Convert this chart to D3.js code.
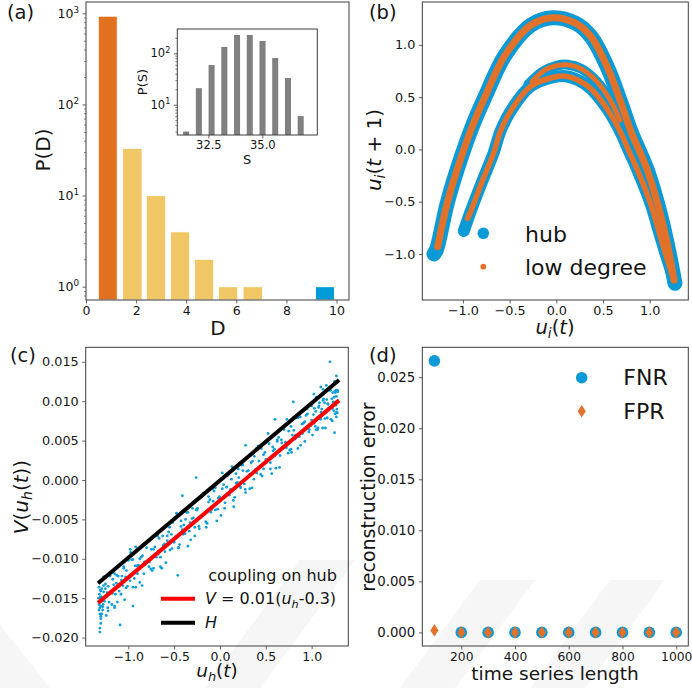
<!DOCTYPE html>
<html>
<head>
<meta charset="utf-8">
<script src="https://cdn.jsdelivr.net/npm/d3@7"></script>
<style>
  html, body { margin: 0; padding: 0; background: #fff; }
  svg { display: block; }
  text { font-family: "DejaVu Sans", sans-serif; white-space: pre; }
</style>
</head>
<body>
<svg id="fig" width="692" height="688"></svg>
<script>
// ---------- data ----------

// (a) degree histogram
const degBinLo = [0.49, 1.46, 2.41, 3.37, 4.33, 5.29, 6.27, 9.16];
const degBinHi = [1.25, 2.24, 3.18, 4.14, 5.10, 6.06, 7.05, 9.92];
const degCount = [930, 33, 10, 4, 2, 1, 1, 1];
const degGroup = ["low", "mid", "mid", "mid", "mid", "mid", "mid", "hub"];

// (a) inset: strength histogram
const sCenter = [31.47, 32.06, 32.65, 33.24, 33.83, 34.42, 35.01, 35.60, 36.19, 36.78];
const sCount = [3, 21, 59, 133, 227, 227, 174, 81, 33, 6];

// (b) return maps, traced along the point clouds
const hubOuter = [[-1.31,-1.00],[-1.28,-0.95],[-1.17,-0.52],[-1.05,-0.16],[-0.90,0.22],[-0.76,0.51],[-0.55,0.90],[-0.27,1.19],[-0.04,1.26],[0.20,1.21],[0.37,1.08],[0.55,0.78],[0.69,0.45],[0.80,0.17],[0.975,-0.20],[1.12,-0.64],[1.21,-1.00],[1.27,-1.28]];
const hubInner = [[-0.99,-0.78],[-0.92,-0.60],[-0.80,-0.32],[-0.67,-0.03],[-0.60,0.17],[-0.48,0.38],[-0.28,0.60],[-0.03,0.69],[0.10,0.70],[0.24,0.66],[0.37,0.58],[0.55,0.38],[0.69,0.16],[0.78,-0.02],[0.87,-0.20],[1.01,-0.52],[1.08,-0.73],[1.17,-1.00],[1.25,-1.22]];
const hubInnerTop = [[-0.30,0.62],[-0.15,0.74],[0.00,0.80],[0.12,0.81],[0.27,0.77],[0.40,0.68],[0.52,0.55],[0.62,0.40],[0.70,0.25]];
const lowOuter = [[-1.27,-0.93],[-1.17,-0.52],[-1.05,-0.16],[-0.90,0.22],[-0.76,0.51],[-0.55,0.90],[-0.27,1.19],[-0.04,1.26],[0.20,1.21],[0.37,1.08],[0.55,0.78],[0.69,0.45],[0.80,0.17],[0.975,-0.20],[1.12,-0.64],[1.21,-1.00],[1.26,-1.25]];
const lowInner = [[-0.95,-0.66],[-0.92,-0.60],[-0.80,-0.32],[-0.67,-0.03],[-0.60,0.17],[-0.48,0.38],[-0.28,0.60],[-0.03,0.69],[0.10,0.70],[0.24,0.66],[0.37,0.58],[0.55,0.38],[0.69,0.16],[0.78,-0.02],[0.87,-0.20],[1.01,-0.52],[1.08,-0.73],[1.17,-1.00],[1.24,-1.20]];
const lowInnerTop = [[-0.26,0.65],[-0.12,0.76],[0.00,0.80],[0.12,0.81],[0.27,0.77],[0.40,0.68],[0.52,0.55],[0.62,0.40],[0.68,0.28]];

// (c) coupling on the hub: sampled points (u_h, V)
const couplingPts = [
  [-1.32,-0.0136],[-1.31,-0.0162],[-1.31,-0.0149],[-1.30,-0.0173],[-1.30,-0.0141],[-1.29,-0.0154],[-1.28,-0.0126],[-1.28,-0.0165],[-1.27,-0.0142],[-1.26,-0.0154],[-1.25,-0.0132],[-1.24,-0.0172],[-1.23,-0.0143],[-1.22,-0.0135],[-1.21,-0.0155],[-1.20,-0.0122],[-1.19,-0.0142],[-1.18,-0.0158],[-1.17,-0.0126],[-1.16,-0.0133],[-1.15,-0.0119],[-1.14,-0.0145],[-1.13,-0.0131],[-1.12,-0.0155],[-1.11,-0.0122],[-1.10,-0.0135],[-1.09,-0.0107],[-1.08,-0.0145],[-1.07,-0.0122],[-1.06,-0.0134],[-1.05,-0.0112],[-1.04,-0.0152],[-1.03,-0.0123],[-1.02,-0.0115],[-1.01,-0.0135],[-1.00,-0.0102],
  [-1.31,-0.0193],[-1.31,-0.0188],[-1.30,-0.0182],[-1.30,-0.0176],[-1.29,-0.0170],[-1.32,-0.0165],[-1.28,-0.0161],[-1.09,-0.0184],[-1.15,-0.0162],[-1.22,-0.0166],[-1.27,-0.0123],[-1.31,-0.0128],[-0.95,-0.0160],[-0.92,-0.0085],[-0.98,-0.0088],[-0.46,-0.0121],[-0.26,0.0003],[-0.41,-0.0020],[0.28,0.0044],
  [-0.98,-0.0128],[-0.95,-0.0101],[-0.92,-0.0136],[-0.89,-0.0108],[-0.86,-0.0098],[-0.83,-0.0119],[-0.80,-0.0080],[-0.77,-0.0104],[-0.74,-0.0115],[-0.71,-0.0085],[-0.68,-0.0071],[-0.65,-0.0098],[-0.62,-0.0083],[-0.59,-0.0105],[-0.56,-0.0066],[-0.53,-0.0069],[-0.50,-0.0079],[-0.47,-0.0043],[-0.44,-0.0082],[-0.41,-0.0063],[-0.38,-0.0068],[-0.35,-0.0041],[-0.32,-0.0076],[-0.29,-0.0048],[-0.26,-0.0038],[-0.23,-0.0059],[-0.20,-0.0020],[-0.17,-0.0044],[-0.14,-0.0055],[-0.11,-0.0025],[-0.08,-0.0011],[-0.05,-0.0038],[-0.02,-0.0023],[0.01,-0.0045],[0.04,-0.0006],[0.07,-0.0009],[0.10,-0.0019],[0.13,0.0017],[0.16,-0.0022],[0.19,-0.0003],[0.22,-0.0008],[0.25,0.0019],[0.28,-0.0016],[0.31,0.0012],[0.34,0.0022],[0.37,0.0001],[0.40,0.0040],[0.43,0.0016],[0.46,0.0005],[0.49,0.0035],[0.52,0.0049],[0.55,0.0022],[0.58,0.0037],[0.61,0.0015],[0.64,0.0054],[0.67,0.0051],[0.70,0.0041],[0.73,0.0077],[0.76,0.0038],[0.79,0.0057],[0.82,0.0052],[0.85,0.0079],[0.88,0.0044],[0.91,0.0072],[0.94,0.0082],[0.97,0.0061],
  [-0.965,-0.0101],[-0.935,-0.0125],[-0.905,-0.0109],[-0.875,-0.0130],[-0.845,-0.0096],[-0.815,-0.0107],[-0.785,-0.0077],[-0.755,-0.0113],[-0.725,-0.0088],[-0.695,-0.0098],[-0.665,-0.0074],[-0.635,-0.0112],[-0.605,-0.0081],[-0.575,-0.0071],[-0.545,-0.0089],[-0.515,-0.0054],[-0.485,-0.0072],[-0.455,-0.0086],[-0.425,-0.0052],[-0.395,-0.0057],[-0.365,-0.0041],[-0.335,-0.0065],[-0.305,-0.0049],[-0.275,-0.0071],[-0.245,-0.0036],[-0.215,-0.0047],[-0.185,-0.0017],[-0.155,-0.0053],[-0.125,-0.0028],[-0.095,-0.0038],[-0.065,-0.0014],[-0.035,-0.0052],[-0.005,-0.0021],[0.025,-0.0011],[0.055,-0.0029],[0.085,0.0006],[0.115,-0.0012],[0.145,-0.0026],[0.175,0.0008],[0.205,0.0003],[0.235,0.0019],[0.265,-0.0005],[0.295,0.0011],[0.325,-0.0011],[0.355,0.0024],[0.385,0.0013],[0.415,0.0043],[0.445,0.0007],[0.475,0.0032],[0.505,0.0022],[0.535,0.0046],[0.565,0.0008],[0.595,0.0039],[0.625,0.0049],[0.655,0.0031],[0.685,0.0066],[0.715,0.0048],[0.745,0.0034],[0.775,0.0068],[0.805,0.0063],[0.835,0.0079],[0.865,0.0055],[0.895,0.0071],[0.925,0.0049],[0.955,0.0084],
  [-1.250,-0.0138],[-1.225,-0.0162],[-1.200,-0.0121],[-1.175,-0.0144],[-1.150,-0.0160],[-1.125,-0.0121],[-1.100,-0.0141],[-1.075,-0.0127],[-1.050,-0.0110],[-1.025,-0.0137],[-1.000,-0.0124],[-0.975,-0.0092],[-0.950,-0.0136],[-0.925,-0.0109],[-0.900,-0.0119],[-0.875,-0.0100],[-0.850,-0.0134],[-0.825,-0.0104],[-0.800,-0.0086],[-0.775,-0.0110],[-0.750,-0.0088],[-0.725,-0.0112],[-0.700,-0.0071],[-0.675,-0.0094],[-0.650,-0.0110],[-0.625,-0.0071],[-0.600,-0.0091],[-0.575,-0.0077],[-0.550,-0.0060],[-0.525,-0.0087],[-0.500,-0.0074],[-0.475,-0.0042],[-0.450,-0.0086],[-0.425,-0.0059],[-0.400,-0.0069],[-0.375,-0.0050],[-0.350,-0.0084],[-0.325,-0.0054],[-0.300,-0.0036],[-0.275,-0.0060],[-0.250,-0.0038],[-0.225,-0.0062],[-0.200,-0.0021],[-0.175,-0.0044],[-0.150,-0.0060],[-0.125,-0.0021],[-0.100,-0.0041],[-0.075,-0.0027],[-0.050,-0.0010],[-0.025,-0.0037],[0.000,-0.0024],[0.025,0.0009],[0.050,-0.0036],[0.075,-0.0009],[0.100,-0.0019],[0.125,0.0001],[0.150,-0.0034],[0.175,-0.0004],[0.200,0.0014],[0.225,-0.0010],[0.250,0.0012],[0.275,-0.0012],[0.300,0.0029],[0.325,0.0007],[0.350,-0.0010],[0.375,0.0030],[0.400,0.0009],[0.425,0.0024],[0.450,0.0040],[0.475,0.0014],[0.500,0.0026],[0.525,0.0059],[0.550,0.0014],[0.575,0.0042],[0.600,0.0031],[0.625,0.0051],[0.650,0.0016],[0.675,0.0047],[0.700,0.0064],[0.725,0.0041],[0.750,0.0062],[0.775,0.0039],[0.800,0.0079],[0.825,0.0057],[0.850,0.0040],[0.875,0.0080],[0.900,0.0059],[0.925,0.0074],[0.950,0.0090],[0.975,0.0064],[1.000,0.0076],[1.025,0.0109],[1.050,0.0064],[1.075,0.0092],[1.100,0.0081],[1.125,0.0101],[1.150,0.0066],[1.175,0.0097],[1.200,0.0114],[1.225,0.0091],[1.250,0.0112],
  [0.99,0.0069],[1.00,0.0094],[1.01,0.0057],[1.02,0.0083],[1.03,0.0091],[1.04,0.0068],[1.05,0.0105],[1.06,0.0079],[1.07,0.0066],[1.08,0.0094],[1.09,0.0106],[1.10,0.0077],[1.11,0.0090],[1.12,0.0066],[1.13,0.0103],[1.14,0.0098],[1.15,0.0086],[1.16,0.0120],[1.17,0.0079],[1.18,0.0096],[1.19,0.0089],[1.20,0.0114],[1.21,0.0077],[1.22,0.0103],[1.23,0.0111],[1.24,0.0088],[1.25,0.0125],[1.26,0.0099],[1.27,0.0086],[1.28,0.0114],
  [1.005,0.0097],[1.025,0.0072],[1.045,0.0087],[1.065,0.0064],[1.085,0.0098],[1.105,0.0086],[1.125,0.0115],[1.145,0.0078],[1.165,0.0102],[1.185,0.0091],[1.205,0.0114],[1.225,0.0075],[1.245,0.0105],[1.265,0.0114],
  [1.215,0.0119],[1.235,0.0099],[1.255,0.0084],[1.265,0.0095],[1.275,0.0090],[1.285,0.0112],[1.28,0.0100],[1.27,0.0106],[1.26,0.0111],
  [-1.325,-0.0150],[-1.32,-0.0158],[-1.315,-0.0145],[-1.31,-0.0170],[-1.305,-0.0140],[-1.30,-0.0160],[-1.295,-0.0148],[-1.29,-0.0138],[-1.285,-0.0152],[-1.275,-0.0158],[-1.27,-0.0134],
  [1.20,0.0150],[1.27,0.0132],[1.28,0.0125],[1.28,0.0085],[1.27,0.0080],[1.10,0.0118],[1.25,0.0060],[0.80,0.0099],[0.60,0.0077],[0.78,0.0035]
];
const lineH = [[-1.33,-0.0131],[1.30,0.0127]];   // H
const lineV = [[-1.33,-0.0156],[1.30,0.0101]];   // V = 0.01(u_h - 0.3)

// (d) reconstruction error vs time series length
const tsLength = [100, 200, 300, 400, 500, 600, 700, 800, 900, 1000];
const fnr = [0.0266, 0, 0, 0, 0, 0, 0, 0, 0, 0];
const fpr = [0.0002, 0, 0, 0, 0, 0, 0, 0, 0, 0];

// ---------- drawing ----------
const FONT = "DejaVu Sans, sans-serif";
const C = {
  orange: "#e2711f", yellow: "#f0c764", blue: "#009bd8",
  hub: "#0c9ad6", low: "#e2722a", dot: "#0b9ed9",
  ink: "#141414", spine: "#3c3c3c"
};

const svg = d3.select("#fig");
svg.append("rect").attr("width", 692).attr("height", 688).attr("fill", "#fff");

// faint watermark from the source page
const wm = svg.append("g").attr("fill", "#000").attr("opacity", 0.03);
[
  [[400,688],[480,580],[535,580],[455,688]],
  [[530,688],[610,580],[665,580],[585,688]],
  [[205,688],[300,560],[355,560],[260,688]],
  [[0,625],[50,688],[0,688]]
].forEach(p => wm.append("polygon").attr("points", p.map(q => q.join(",")).join(" ")));

function frame(g, x, y) {
  const [x0, x1] = x.range(), [y1, y0] = y.range();
  g.append("rect").attr("x", x0).attr("y", y0)
    .attr("width", x1 - x0).attr("height", y1 - y0)
    .attr("fill", "none").attr("stroke", C.spine).attr("stroke-width", 1);
}

function styleAxis(s, size) {
  s.select(".domain").remove();
  s.selectAll(".tick line").attr("stroke", C.spine).attr("stroke-width", 0.8);
  s.selectAll(".tick text").attr("fill", C.ink).attr("font-size", size).attr("font-family", FONT);
}

function xAxis(g, x, y, ticks, fmt, size) {
  return g.append("g").attr("transform", `translate(0,${y.range()[0]})`)
    .call(d3.axisBottom(x).tickValues(ticks).tickFormat(fmt).tickSize(3.5).tickPadding(2.5))
    .call(s => styleAxis(s, size));
}

function yAxis(g, x, y, ticks, fmt, size) {
  return g.append("g").attr("transform", `translate(${x.range()[0]},0)`)
    .call(d3.axisLeft(y).tickValues(ticks).tickFormat(fmt).tickSize(3.5).tickPadding(3.5))
    .call(s => styleAxis(s, size));
}

function minorY(g, x, y, vals) {
  g.append("g").attr("transform", `translate(${x.range()[0]},0)`)
    .call(d3.axisLeft(y).tickValues(vals).tickFormat("").tickSize(2))
    .call(s => {
      s.select(".domain").remove();
      s.selectAll("line").attr("stroke", C.spine).attr("stroke-width", 0.6);
    });
}

// 10^k labels
function powLabels(s) {
  s.selectAll(".tick text").each(function(d) {
    const t = d3.select(this).text("");
    t.append("tspan").text("10");
    t.append("tspan").attr("font-size", "0.7em").attr("dy", "-0.6em").text(Math.round(Math.log10(d)));
  });
}

// mathtext-like label: parts = [[text, kind]], kind: "" upright, "i" italic, "s" italic subscript
function math(t, parts, size) {
  let shift = 0;
  t.attr("font-size", size).attr("fill", C.ink);
  parts.forEach(([s, k]) => {
    const sp = t.append("tspan").text(s);
    const target = k === "s" ? size * 0.22 : 0;
    if (target !== shift) { sp.attr("dy", target - shift); shift = target; }
    if (k === "i" || k === "s") sp.attr("font-style", "italic");
    if (k === "s") sp.attr("font-size", size * 0.7);
  });
  return t;
}

function label(x, y, txt, size, rot) {
  return svg.append("text")
    .attr("transform", `translate(${x},${y})${rot ? " rotate(-90)" : ""}`)
    .attr("text-anchor", "middle").attr("font-size", size).attr("fill", C.ink).text(txt);
}

function panelTag(x, y, txt) {
  svg.append("text").attr("x", x).attr("y", y).attr("font-size", 19.5).attr("fill", C.ink).text(txt);
}

// ===== (a) =====
const ga = svg.append("g");
const xa = d3.scaleLinear().domain([0, 10.5]).range([86, 349]);
const ya = d3.scaleLog().domain([0.714, 1330]).range([300, 2]);
const barColor = { low: C.orange, mid: C.yellow, hub: C.blue };

ga.selectAll("rect.deg").data(degCount).join("rect")
  .attr("class", "deg")
  .attr("x", (d, i) => xa(degBinLo[i]))
  .attr("width", (d, i) => xa(degBinHi[i]) - xa(degBinLo[i]))
  .attr("y", d => ya(d))
  .attr("height", d => ya.range()[0] - ya(d))
  .attr("fill", (d, i) => barColor[degGroup[i]])
  .attr("stroke", "#fff").attr("stroke-width", 1);

frame(ga, xa, ya);
xAxis(ga, xa, ya, [0, 2, 4, 6, 8, 10], d3.format("d"), 12.5);
minorY(ga, xa, ya, [0.8, 0.9, 2, 3, 4, 5, 6, 7, 8, 9, 20, 30, 40, 50, 60, 70, 80, 90, 200, 300, 400, 500, 600, 700, 800, 900]);
yAxis(ga, xa, ya, [1, 10, 100, 1000], "", 12.5).call(powLabels);
label(218, 335, "D", 20);
label(50, 150, "P(D)", 20, true);
panelTag(7, 19, "(a)");

// inset
const gi = svg.append("g");
const xs = d3.scaleLinear().domain([31.06, 37.55]).range([177.3, 317.3]);
const ys = d3.scaleLog().domain([2.57, 297]).range([135, 29]);
const S_BAR = 0.28;
gi.append("rect").attr("x", 177.3).attr("y", 29).attr("width", 140).attr("height", 106).attr("fill", "#fff");
gi.selectAll("rect.s").data(sCount).join("rect")
  .attr("class", "s")
  .attr("x", (d, i) => xs(sCenter[i] - S_BAR / 2))
  .attr("width", (d, i) => xs(sCenter[i] + S_BAR / 2) - xs(sCenter[i] - S_BAR / 2))
  .attr("y", d => ys(d))
  .attr("height", d => ys.range()[0] - ys(d))
  .attr("fill", "#808080");
frame(gi, xs, ys);
xAxis(gi, xs, ys, [32.5, 35.0], d3.format(".1f"), 11.5);
minorY(gi, xs, ys, [3, 4, 5, 6, 7, 8, 9, 20, 30, 40, 50, 60, 70, 80, 90, 200]);
yAxis(gi, xs, ys, [10, 100], "", 11.5).call(powLabels);
label(247, 164, "S", 13);
label(147, 82, "P(S)", 13, true);

// ===== (b) =====
const gb = svg.append("g");
const xb = d3.scaleLinear().domain([-1.435, 1.413]).range([422.3, 688.3]);
const yb = d3.scaleLinear().domain([-1.44, 1.41]).range([300, 2]);
const band = d3.line().x(d => xb(d[0])).y(d => yb(d[1])).curve(d3.curveCatmullRom);

[[hubOuter, 15], [hubInner, 12], [hubInnerTop, 10]].forEach(([pts, w]) =>
  gb.append("path").attr("d", band(pts)).attr("fill", "none")
    .attr("stroke", C.hub).attr("stroke-width", w)
    .attr("stroke-linecap", "round").attr("stroke-linejoin", "round"));
[[lowOuter, 7], [lowInner, 5.5], [lowInnerTop, 5]].forEach(([pts, w]) =>
  gb.append("path").attr("d", band(pts)).attr("fill", "none")
    .attr("stroke", C.low).attr("stroke-width", w)
    .attr("stroke-linecap", "round").attr("stroke-linejoin", "round"));

frame(gb, xb, yb);
xAxis(gb, xb, yb, [-1, -0.5, 0, 0.5, 1], d3.format(".1f"), 12.8);
yAxis(gb, xb, yb, [-1, -0.5, 0, 0.5, 1], d3.format(".1f"), 12.8);

gb.append("circle").attr("cx", 483.3).attr("cy", 233.3).attr("r", 5.8).attr("fill", C.hub);
gb.append("text").attr("x", 525).attr("y", 241.7).attr("font-size", 22).attr("fill", C.ink).text("hub");
gb.append("circle").attr("cx", 483.3).attr("cy", 266.7).attr("r", 2.9).attr("fill", C.low);
gb.append("text").attr("x", 525).attr("y", 275.3).attr("font-size", 22).attr("fill", C.ink).text("low degree");

math(svg.append("text").attr("x", 555).attr("y", 334).attr("text-anchor", "middle"),
  [["u", "i"], ["i", "s"], ["(", ""], ["t", "i"], [")", ""]], 19.5);
math(svg.append("text").attr("transform", "translate(381,150) rotate(-90)").attr("text-anchor", "middle"),
  [["u", "i"], ["i", "s"], ["(", ""], ["t", "i"], [" + 1)", ""]], 20);
panelTag(369, 19, "(b)");

// ===== (c) =====
const gc = svg.append("g");
const xc = d3.scaleLinear().domain([-1.465, 1.40]).range([85.7, 348.3]);
const yc = d3.scaleLinear().domain([-0.02107, 0.01684]).range([646, 347.3]);

gc.selectAll("circle.cp").data(couplingPts).join("circle")
  .attr("class", "cp")
  .attr("cx", d => xc(d[0])).attr("cy", d => yc(d[1]))
  .attr("r", 1.4).attr("fill", C.dot);

const seg = d3.line().x(d => xc(d[0])).y(d => yc(d[1]));
gc.append("path").attr("d", seg(lineH)).attr("stroke", "#000").attr("stroke-width", 4).attr("fill", "none");
gc.append("path").attr("d", seg(lineV)).attr("stroke", "#ff0000").attr("stroke-width", 4).attr("fill", "none");

frame(gc, xc, yc);
xAxis(gc, xc, yc, [-1, -0.5, 0, 0.5, 1], d3.format(".1f"), 12.5);
yAxis(gc, xc, yc, [-0.02, -0.015, -0.01, -0.005, 0, 0.005, 0.01, 0.015], d3.format(".3f"), 12.8);

gc.append("text").attr("x", 208.3).attr("y", 580.5).attr("font-size", 16).attr("fill", C.ink).text("coupling on hub");
gc.append("line").attr("x1", 161).attr("x2", 195).attr("y1", 598.7).attr("y2", 598.7).attr("stroke", "#ff0000").attr("stroke-width", 4);
math(gc.append("text").attr("x", 205).attr("y", 604),
  [["V", "i"], [" = 0.01(", ""], ["u", "i"], ["h", "s"], ["-0.3)", ""]], 16);
gc.append("line").attr("x1", 161).attr("x2", 195).attr("y1", 622.7).attr("y2", 622.7).attr("stroke", "#000").attr("stroke-width", 4);
math(gc.append("text").attr("x", 205).attr("y", 627.7), [["H", "i"]], 16);

math(svg.append("text").attr("x", 217).attr("y", 677).attr("text-anchor", "middle"),
  [["u", "i"], ["h", "s"], ["(", ""], ["t", "i"], [")", ""]], 18.5);
math(svg.append("text").attr("transform", "translate(28,497) rotate(-90)").attr("text-anchor", "middle"),
  [["V", "i"], ["(", ""], ["u", "i"], ["h", "s"], ["(", ""], ["t", "i"], ["))", ""]], 20);
panelTag(10, 361.5, "(c)");

// ===== (d) =====
const gd = svg.append("g");
const xd = d3.scaleLinear().domain([55, 1045]).range([422.3, 688.3]);
const yd = d3.scaleLinear().domain([-0.00133, 0.02793]).range([646, 347.3]);
const diamond = "M0,-6.2L4.1,0L0,6.2L-4.1,0Z";

gd.selectAll("circle.fnr").data(fnr).join("circle")
  .attr("class", "fnr")
  .attr("cx", (d, i) => xd(tsLength[i])).attr("cy", d => yd(d))
  .attr("r", 5.8).attr("fill", C.hub);
gd.selectAll("path.fpr").data(fpr).join("path")
  .attr("class", "fpr")
  .attr("transform", (d, i) => `translate(${xd(tsLength[i])},${yd(d)})`)
  .attr("d", diamond).attr("fill", C.low);

frame(gd, xd, yd);
xAxis(gd, xd, yd, [200, 400, 600, 800, 1000], d3.format("d"), 12.3);
yAxis(gd, xd, yd, [0, 0.005, 0.01, 0.015, 0.02, 0.025], d3.format(".3f"), 13.3);

gd.append("circle").attr("cx", 581.7).attr("cy", 377.7).attr("r", 5.8).attr("fill", C.hub);
gd.append("text").attr("x", 623.3).attr("y", 385).attr("font-size", 22).attr("fill", C.ink).text("FNR");
gd.append("path").attr("transform", "translate(581.7,411.3)").attr("d", diamond).attr("fill", C.low);
gd.append("text").attr("x", 623.3).attr("y", 419.3).attr("font-size", 22).attr("fill", C.ink).text("FPR");

label(555, 680, "time series length", 18.5);
label(375, 497, "reconstruction error", 19, true);
panelTag(369, 361.5, "(d)");
</script>
</body>
</html>
